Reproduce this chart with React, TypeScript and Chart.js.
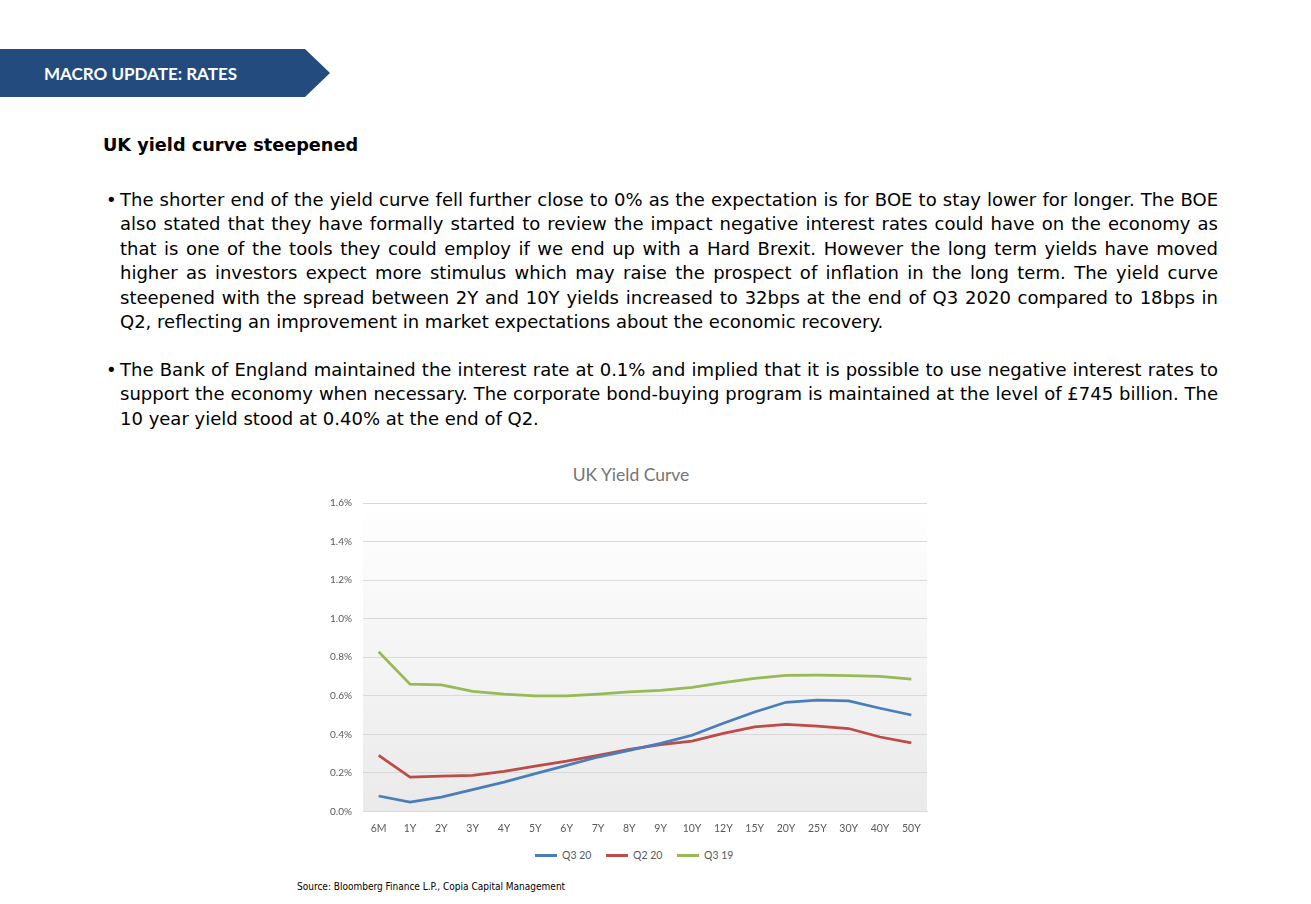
import React, { useEffect, useRef } from "react";
import { Chart, registerables } from "chart.js";

Chart.register(...registerables);

const categories = ["6M", "1Y", "2Y", "3Y", "4Y", "5Y", "6Y", "7Y", "8Y", "9Y", "10Y", "12Y", "15Y", "20Y", "25Y", "30Y", "40Y", "50Y"];
const q320 = [0.08, 0.048, 0.074, 0.113, 0.152, 0.196, 0.239, 0.282, 0.317, 0.353, 0.395, 0.457, 0.516, 0.566, 0.577, 0.573, 0.535, 0.5];
const q220 = [0.291, 0.178, 0.183, 0.187, 0.208, 0.235, 0.261, 0.291, 0.322, 0.346, 0.365, 0.405, 0.438, 0.452, 0.443, 0.43, 0.386, 0.355];
const q319 = [0.828, 0.66, 0.656, 0.623, 0.608, 0.599, 0.599, 0.609, 0.62, 0.628, 0.643, 0.668, 0.69, 0.706, 0.707, 0.705, 0.7, 0.686];
const seriesNames = ["Q3 20", "Q2 20", "Q3 19"];
const seriesColors = ["#4a7ebb", "#be4b48", "#98b954"];
const yTicks = [0, 0.2, 0.4, 0.6, 0.8, 1.0, 1.2, 1.4, 1.6];

const bodyFont = '"DejaVu Sans", sans-serif';
const condFont = '"DejaVu Sans Condensed", "DejaVu Sans", sans-serif';

const bgPlugin = {
  id: "plotBg",
  beforeDraw(chart: any) {
    const { ctx, chartArea } = chart;
    if (!chartArea) return;
    const g = ctx.createLinearGradient(0, chartArea.top, 0, chartArea.bottom);
    g.addColorStop(0, "#ffffff");
    g.addColorStop(1, "#eaeaea");
    ctx.save();
    ctx.fillStyle = g;
    ctx.fillRect(chartArea.left, chartArea.top, chartArea.right - chartArea.left, chartArea.bottom - chartArea.top);
    ctx.restore();
  },
};

function YieldChart() {
  const ref = useRef<HTMLCanvasElement>(null);
  useEffect(() => {
    if (!ref.current) return;
    const data = [q320, q220, q319];
    const chart = new Chart(ref.current, {
      type: "line",
      data: {
        labels: categories,
        datasets: data.map((d, i) => ({
          label: seriesNames[i],
          data: d,
          borderColor: seriesColors[i],
          backgroundColor: seriesColors[i],
          borderWidth: 2.75,
          pointRadius: 0,
          tension: 0,
          fill: false,
        })),
      },
      options: {
        animation: false,
        responsive: false,
        maintainAspectRatio: false,
        layout: { padding: { left: 0, right: 13, top: 13, bottom: 0 } },
        plugins: {
          tooltip: { enabled: false },
          title: { display: false },
          legend: { display: false },
        },
        scales: {
          x: {
            offset: true,
            grid: { display: false, drawTicks: false },
            border: { display: true, color: "#d9d9d9" },
            ticks: { color: "#595959", font: { family: "Lato", size: 10.5 }, padding: 11, maxRotation: 0, autoSkip: false },
          },
          y: {
            min: 0,
            max: 1.6,
            afterFit(scale: any) {
              scale.width = 63;
            },
            afterBuildTicks(scale: any) {
              scale.ticks = yTicks.map((v) => ({ value: v }));
            },
            grid: { color: "#d9d9d9", drawTicks: false },
            border: { display: false },
            ticks: {
              color: "#595959",
              font: { family: "Lato", size: 10 },
              padding: 11,
              callback: (v: any) => Number(v).toFixed(1) + "%",
            },
          },
        },
      },
      plugins: [bgPlugin],
    } as any);
    return () => chart.destroy();
  }, []);
  return <canvas ref={ref} width={640} height={360} style={{ position: "absolute", left: 300, top: 486, width: 640, height: 360 }} />;
}

const p1Lines = [
  "The shorter end of the yield curve fell further close to 0% as the expectation is for BOE to stay lower for longer. The BOE",
  "also stated that they have formally started to review the impact negative interest rates could have on the economy as",
  "that is one of the tools they could employ if we end up with a Hard Brexit. However the long term yields have moved",
  "higher as investors expect more stimulus which may raise the prospect of inflation in the long term. The yield curve",
  "steepened with the spread between 2Y and 10Y yields increased to 32bps at the end of Q3 2020 compared to 18bps in",
  "Q2, reflecting an improvement in market expectations about the economic recovery.",
];
const p2Lines = [
  "The Bank of England maintained the interest rate at 0.1% and implied that it is possible to use negative interest rates to",
  "support the economy when necessary. The corporate bond-buying program is maintained at the level of £745 billion. The",
  "10 year yield stood at 0.40% at the end of Q2.",
];

function Bullet({ top, lines }: { top: number; lines: string[] }) {
  return (
    <div style={{ position: "absolute", left: 120, top, width: 1098, fontFamily: bodyFont, fontSize: 18, lineHeight: "24.4px", color: "#000" }}>
      <span style={{ position: "absolute", left: -14, top: 0 }}>•</span>
      {lines.map((l, i) => (
        <div key={i} style={{ whiteSpace: "nowrap", textAlign: i < lines.length - 1 ? "justify" : "left", textAlignLast: i < lines.length - 1 ? "justify" : "left" } as any}>
          {l}
        </div>
      ))}
    </div>
  );
}

const legendX = [535, 606, 677];

export default function App() {
  return (
    <div style={{ position: "absolute", left: 0, top: 0, width: 1311, height: 904, background: "#fff", overflow: "hidden" }}>
      <svg width={340} height={110} style={{ position: "absolute", left: 0, top: 0 }}>
        <polygon points="0,49 305,49 330,73 305,97 0,97" fill="#234b7e" />
      </svg>
      <div style={{ position: "absolute", left: 44, top: 63, fontFamily: "Lato, sans-serif", fontWeight: 700, fontSize: 17, color: "#fff", lineHeight: "22px", whiteSpace: "nowrap" }}>
        MACRO UPDATE: RATES
      </div>
      <div style={{ position: "absolute", left: 103, top: 133, fontFamily: bodyFont, fontWeight: 700, fontSize: 17.7, lineHeight: "24px", color: "#000", whiteSpace: "nowrap" }}>
        UK yield curve steepened
      </div>
      <Bullet top={188} lines={p1Lines} />
      <Bullet top={358} lines={p2Lines} />
      <div style={{ position: "absolute", left: 431, top: 463, width: 400, textAlign: "center", fontFamily: "Lato, sans-serif", fontSize: 17.5, lineHeight: "24px", color: "#757575" }}>
        UK Yield Curve
      </div>
      <YieldChart />
      {seriesNames.map((n, i) => (
        <div key={n} style={{ position: "absolute", left: legendX[i], top: 847, height: 16, whiteSpace: "nowrap", fontFamily: "Lato, sans-serif", fontSize: 10.5, lineHeight: "16px", color: "#595959" }}>
          <span style={{ display: "inline-block", width: 22, height: 3, background: seriesColors[i], verticalAlign: "middle", marginRight: 5, position: "relative", top: -1 }} />
          {n}
        </div>
      ))}
      <div style={{ position: "absolute", left: 297, top: 880, fontFamily: condFont, fontSize: 10, lineHeight: "14px", color: "#000", whiteSpace: "nowrap" }}>
        Source: Bloomberg Finance L.P., Copia Capital Management
      </div>
    </div>
  );
}
